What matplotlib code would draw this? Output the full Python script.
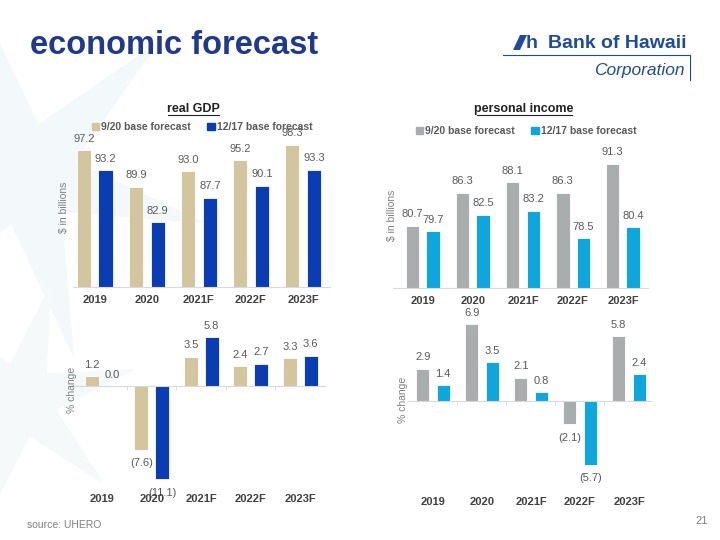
import matplotlib
matplotlib.use("Agg")
import matplotlib.pyplot as plt
import matplotlib.patches as mpatches
import matplotlib.transforms as mtransforms
import numpy as np

plt.rcParams['font.family'] = ['Liberation Sans', 'DejaVu Sans']

# ---------------- data ----------------
years = ["2019", "2020", "2021F", "2022F", "2023F"]
series_names = ["9/20 base forecast", "12/17 base forecast"]

gdp_sep = [97.2, 89.9, 93.0, 95.2, 98.3]
gdp_dec = [93.2, 82.9, 87.7, 90.1, 93.3]
gdp_chg_sep = [1.2, -7.6, 3.5, 2.4, 3.3]
gdp_chg_dec = [0.0, -11.1, 5.8, 2.7, 3.6]

inc_sep = [80.7, 86.3, 88.1, 86.3, 91.3]
inc_dec = [79.7, 82.5, 83.2, 78.5, 80.4]
inc_chg_sep = [2.9, 6.9, 2.1, -2.1, 5.8]
inc_chg_dec = [1.4, 3.5, 0.8, -5.7, 2.4]

# ---------------- style ----------------
GOLD = "#D3C69E"
NAVY = "#0A3CB4"
GRAY = "#A9ADAD"
CYAN = "#0DA6DD"
LBL = "#595959"
CAT = "#404040"
AXC = "#D9D9D9"
TITLE_BLUE = "#1F3A8C"
LOGO_BLUE = "#1E4C9C"

W, H = 720, 540
fig = plt.figure(figsize=(7.2, 5.4), dpi=100)
fig.patch.set_facecolor("white")


def ax_px(x0, x1, ytop, ybot):
    return fig.add_axes([x0 / W, 1 - ybot / H, (x1 - x0) / W, (ybot - ytop) / H])


# ---------- faint background star ----------
bg = fig.add_axes([0, 0, 1, 1], zorder=-10)
bg.set_xlim(0, W)
bg.set_ylim(H, 0)
bg.axis("off")
cx, cy = 25, 175
for ang in np.arange(0, 360, 60):
    a = np.deg2rad(ang + 15)
    L, w = 190, 34
    tip = (cx + L * np.cos(a), cy + L * np.sin(a))
    p1 = (cx + w * np.cos(a + np.pi / 2), cy + w * np.sin(a + np.pi / 2))
    p2 = (cx + w * np.cos(a - np.pi / 2), cy + w * np.sin(a - np.pi / 2))
    bg.add_patch(mpatches.Polygon([p1, tip, p2, (cx, cy)], closed=True,
                                  facecolor="#F3F8FA", edgecolor="none"))
cx2, cy2 = 20, 400
for ang in np.arange(0, 360, 60):
    a = np.deg2rad(ang + 45)
    L, w = 120, 26
    tip = (cx2 + L * np.cos(a), cy2 + L * np.sin(a))
    p1 = (cx2 + w * np.cos(a + np.pi / 2), cy2 + w * np.sin(a + np.pi / 2))
    p2 = (cx2 + w * np.cos(a - np.pi / 2), cy2 + w * np.sin(a - np.pi / 2))
    bg.add_patch(mpatches.Polygon([p1, tip, p2, (cx2, cy2)], closed=True,
                                  facecolor="#F5F9FA", edgecolor="none"))

# ---------- header ----------
fig.text(30 / W, 1 - 45 / H, "economic forecast", fontsize=23.5, fontweight="bold",
         color=TITLE_BLUE, va="center", ha="left")

# logo
fig.text(687 / W, 1 - 43 / H, "Bank of Hawaii", fontsize=14, fontweight="bold",
         color=LOGO_BLUE, ha="right", va="center")
fig.text(685 / W, 1 - 70 / H, "Corporation", fontsize=12.5, fontstyle="italic",
         color=LOGO_BLUE, ha="right", va="center")
bg.plot([503, 690], [55, 55], color=LOGO_BLUE, lw=0.8)
bg.plot([690, 690], [55, 80], color=LOGO_BLUE, lw=0.8)
bg.add_patch(mpatches.Polygon([(513, 50), (520, 50), (527, 35), (520, 35)],
                              closed=True, facecolor=LOGO_BLUE, edgecolor="none"))
fig.text(526 / W, 1 - 43 / H, "h", fontsize=14, fontweight="bold", color=LOGO_BLUE,
         ha="left", va="center")

# footer
fig.text(27 / W, 1 - 525 / H, "source: UHERO", fontsize=7.5, color="#7F7F7F",
         ha="left", va="center")
fig.text(708 / W, 1 - 521 / H, "21", fontsize=8, color="#7F7F7F", ha="right", va="center")


def fmt(v):
    return f"({abs(v):.1f})" if v < 0 else f"{v:.1f}"


def draw_bars(ax, a, b, ca, cb, off, width):
    x = np.arange(len(years))
    ax.bar(x - off, a, width, color=ca, edgecolor="white", linewidth=0.6, zorder=2)
    ax.bar(x + off, b, width, color=cb, edgecolor="white", linewidth=0.6, zorder=2)
    for xs, vals in ((x - off, a), (x + off, b)):
        for xi, v in zip(xs, vals):
            if v < 0:
                ax.annotate(fmt(v), (xi, v), xytext=(0, -9.5), textcoords="offset points",
                            ha="center", va="center", fontsize=8, color=LBL)
            else:
                ax.annotate(fmt(v), (xi, v), xytext=(0, 8.3), textcoords="offset points",
                            ha="center", va="center", fontsize=8, color=LBL)
    for s in ("top", "right", "left"):
        ax.spines[s].set_visible(False)
    ax.set_yticks([])
    ax.patch.set_alpha(0)
    return x


def level_chart(ax, a, b, ca, cb, off, width, xlim, ylim, title, ylabel, ylab_x, ylab_y,
                leg_xy, tpos):
    x = draw_bars(ax, a, b, ca, cb, off, width)
    ax.set_xlim(*xlim)
    ax.set_ylim(*ylim)
    ax.spines["bottom"].set_color(AXC)
    ax.set_xticks(x)
    ax.set_xticklabels(years, fontsize=8, fontweight="bold", color=CAT)
    ax.tick_params(axis="x", length=0, pad=6)
    fig.text(tpos[0] / W, 1 - tpos[1] / H, title, fontsize=9, fontweight="bold",
             color="#222222", ha="center", va="center")
    fig.text(ylab_x / W, 1 - ylab_y / H, ylabel, fontsize=7.5, color="#7F7F7F",
             rotation=90, ha="center", va="center")
    handles = [mpatches.Patch(color=ca, label=series_names[0]),
               mpatches.Patch(color=cb, label=series_names[1])]
    leg = fig.legend(handles=handles, loc="center", ncol=2, frameon=False,
                     bbox_to_anchor=(leg_xy[0] / W, 1 - leg_xy[1] / H),
                     handlelength=0.7, handleheight=0.7, handletextpad=0.2,
                     columnspacing=1.6, prop={"size": 7.5, "weight": "bold"})
    for t in leg.get_texts():
        t.set_color(LBL)
    return x


def change_chart(ax, a, b, ca, cb, off, width, xlim, ylim, ylabel, ylab_x, ylab_y, cat_y):
    x = draw_bars(ax, a, b, ca, cb, off, width)
    ax.set_xlim(*xlim)
    ax.set_ylim(*ylim)
    ax.spines["bottom"].set_position(("data", 0))
    ax.spines["bottom"].set_color(AXC)
    ax.set_xticks([])
    ax.set_xticks(np.arange(len(years) - 1) + 0.5, minor=True)
    ax.tick_params(axis="x", which="minor", length=3, color=AXC, direction="out")
    trans = mtransforms.blended_transform_factory(ax.transData, fig.transFigure)
    for xi, lab in zip(x, years):
        ax.text(xi, 1 - cat_y / H, lab, transform=trans, ha="center", va="center",
                fontsize=8, fontweight="bold", color=CAT)
    fig.text(ylab_x / W, 1 - ylab_y / H, ylabel, fontsize=7.5, color="#7F7F7F",
             rotation=90, ha="center", va="center")
    return x


# real GDP level
ax1 = ax_px(73, 330, 136, 287)
level_chart(ax1, gdp_sep, gdp_dec, GOLD, NAVY, 0.21, 0.28, (-0.42, 4.52), (70, 100),
            "real GDP", "$ in billions", 64, 207, (202, 127), (193, 109))

# personal income level
ax2 = ax_px(393, 648, 142, 288)
level_chart(ax2, inc_sep, inc_dec, GRAY, CYAN, 0.205, 0.27, (-0.6, 4.5), (70, 95),
            "personal income", "$ in billions", 392, 215, (526, 131), (524, 109))

# real GDP change
ax3 = ax_px(68, 325, 319, 487)
change_chart(ax3, gdp_chg_sep, gdp_chg_dec, GOLD, NAVY, 0.21, 0.28, (-0.69, 4.5), (-12, 8),
             "% change", 72, 390, 499)

# personal income change
ax4 = ax_px(408, 652, 312, 479)
change_chart(ax4, inc_chg_sep, inc_chg_dec, GRAY, CYAN, 0.21, 0.275, (-0.51, 4.47), (-7, 8),
             "% change", 403, 400, 502)

# underline titles
bg.plot([168, 219], [115, 115], color="#222222", lw=0.8)
bg.plot([477, 572], [115, 115], color="#222222", lw=0.8)

fig.savefig("out.png", dpi=100)
